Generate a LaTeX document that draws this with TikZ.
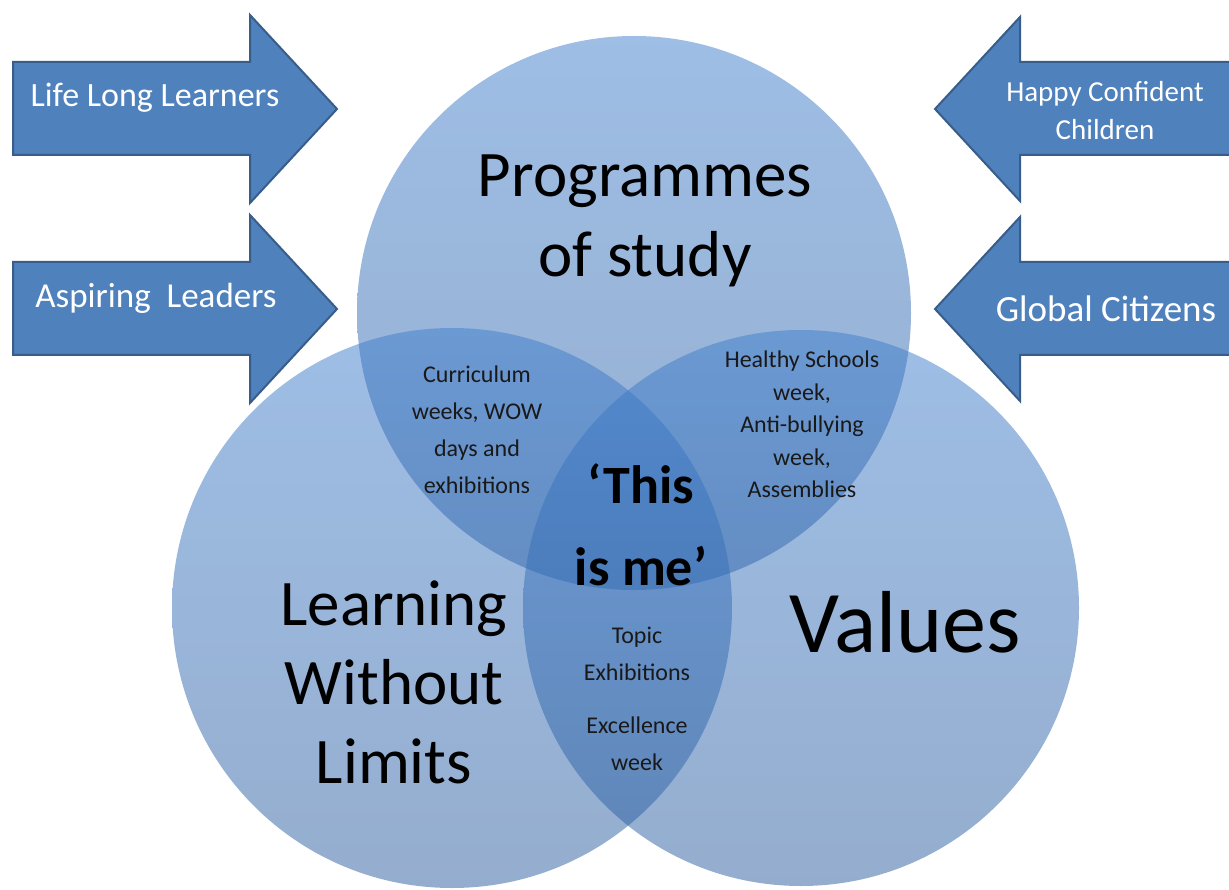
\documentclass[tikz,border=0pt]{standalone}
\usepackage{fontspec}
\setmainfont{Carlito}
\definecolor{arrowblue}{RGB}{79,129,189}
\definecolor{arrowedge}{RGB}{56,93,138}
\definecolor{circtop}{RGB}{62,125,204}
\definecolor{circbot}{RGB}{42,92,158}
\definecolor{smalltext}{RGB}{25,25,25}
\newcommand\mylines[3]{\fontsize{#1}{#2}\selectfont\begin{tabular}[t]{@{}c@{}}#3\end{tabular}}
\begin{document}
\begin{tikzpicture}[x=1pt,y=-1pt,
  bigarrow/.style={fill=arrowblue,draw=arrowedge,line width=2pt,line join=miter},
  vennset/.style={top color=circtop,bottom color=circbot,fill opacity=0.5,draw=none},
  lbl/.style={inner sep=0pt,anchor=base},
  arrowtext/.style={lbl,text=white},
  bigtext/.style={lbl,text=black},
  smalltxt/.style={lbl,text=smalltext}]
\useasboundingbox (0,0) rectangle (1229,890);

% Venn circles
\path[vennset] (634,313) circle[radius=277pt];
\path[vennset] (452,608) circle[radius=280pt];
\path[vennset] (801,608) circle[radius=278pt];

% left arrows
\draw[bigarrow] (13,62) -- (250,62) -- (250,15) -- (337,109) -- (250,203) -- (250,155) -- (13,155) -- cycle;
\draw[bigarrow] (13,262) -- (250,262) -- (250,215) -- (337,309) -- (250,403) -- (250,355) -- (13,355) -- cycle;
% right arrows
\draw[bigarrow] (1235,62) -- (1020,62) -- (1020,17) -- (935,109) -- (1020,201) -- (1020,155) -- (1235,155) -- cycle;
\draw[bigarrow] (1235,262) -- (1020,262) -- (1020,217) -- (935,309) -- (1020,401) -- (1020,355) -- (1235,355) -- cycle;

% arrow labels
\node[arrowtext] (lll) at (155,107) {\fontsize{34}{40}\selectfont Life Long Learners};
\node[arrowtext] (asp) at (156,308) {\fontsize{35}{42}\selectfont Aspiring\ \ Leaders};
\node[arrowtext] (hcc) at (1105,102) {\mylines{29}{38}{Happy Confident\\Children}};
\node[arrowtext] (gc) at (1106,322) {\fontsize{37}{44}\selectfont Global Citizens};

% circle titles
\node[bigtext] (prog) at (645,197) {\mylines{65}{80}{Programmes\\of study}};
\node[bigtext] (lwl) at (394,625) {\mylines{65}{79}{Learning\\Without\\Limits}};
\node[bigtext] (val) at (905,652) {\fontsize{88}{100}\selectfont Values};

% overlap labels
\node[smalltxt] (curr) at (477,383) {\mylines{24}{37}{Curriculum\\weeks, WOW\\days and\\exhibitions}};
\node[smalltxt] (hs) at (802,368) {\mylines{24}{32.5}{Healthy Schools\\week,\\Anti-bullying\\week,\\Assemblies}};
\node[bigtext] (me) at (641,503) {\bfseries\mylines{54}{82}{‘This\\is me’}};
\node[smalltxt] (topic) at (637,643) {\mylines{24}{37}{Topic\\Exhibitions}};
\node[smalltxt] (exc) at (637,733) {\mylines{24}{37}{Excellence\\week}};
\end{tikzpicture}
\end{document}
